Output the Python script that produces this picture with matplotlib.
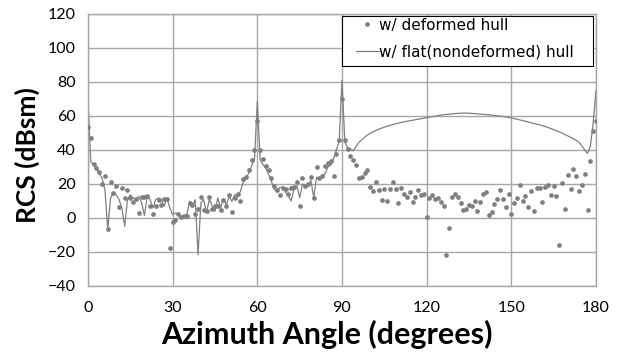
import numpy as np
import matplotlib
matplotlib.use("Agg")
import matplotlib.pyplot as plt
from matplotlib.patches import Rectangle

# azimuth angle, 1 degree steps
azimuth = np.arange(0, 181)

# RCS with deformed hull (dots), dBsm
rcs_deformed = [
    53.3, 46.9, 31.8, 29.2, 27.3, 20.0, 24.5, -6.5, 21.0, 14.7,
    19.0, 6.5, 17.8, 12.0, 16.3, 11.8, 9.4, 11.2, 3.1, 12.4,
    12.5, 13.0, 7.0, 2.5, 7.3, 10.4, 7.5, 11.0, 11.4, -17.6,
    -2.5, -1.4, 2.5, 0.6, 1.4, 1.0, 8.8, 7.5, 2.5, 5.5,
    12.2, 4.5, 4.0, 12.2, 5.0, 7.0, 7.3, 4.5, 10.4, 7.3,
    13.7, 3.5, 11.8, 14.1, 10.2, 23.1, 24.1, 28.4, 33.9, 39.8,
    57.3, 39.8, 34.9, 30.8, 28.4, 23.7, 18.6, 16.7, 13.7, 17.6,
    17.0, 14.1, 17.6, 18.2, 21.0, 6.9, 23.5, 19.0, 20.2, 24.1,
    11.8, 30.0, 23.5, 24.5, 30.8, 32.4, 33.7, 24.9, 37.8, 46.0,
    70.0, 46.0, 40.6, 36.3, 33.9, 31.2, 23.5, 23.9, 26.5, 28.0,
    18.2, 15.9, 21.0, 16.7, 10.8, 17.3, 9.8, 17.0, 21.0, 17.0,
    8.6, 17.8, 14.1, 12.2, 15.5, 9.2, 12.4, 16.3, 13.7, 13.9,
    0.8, 11.8, 13.5, 11.4, 11.8, 9.2, 6.9, -22.0, -5.9, 12.5,
    13.9, 12.2, 8.8, 4.9, 5.3, 7.8, 7.3, 9.8, 3.9, 9.2,
    14.1, 15.5, 2.0, 3.5, 8.2, 11.2, 16.7, 11.4, 6.5, 14.3,
    2.5, 8.8, 11.8, 19.6, 9.8, 12.7, 6.5, 16.1, 4.1, 17.6,
    17.8, 9.4, 18.2, 19.2, 13.7, 19.0, 13.1, -15.7, 20.6, 5.3,
    25.1, 17.0, 28.6, 24.5, 15.7, 19.4, 25.9, 4.5, 33.7, 51.0,
    57.3,
]

# RCS with flat (nondeformed) hull (line), dBsm
rcs_flat = [
    70.0, 33.0, 31.0, 29.0, 26.0, 23.5, 16.7, -6.5, 11.8, 14.7,
    13.7, 10.8, 5.9, -4.9, 10.8, 13.7, 11.8, 10.8, 12.7, 9.0,
    1.4, 12.7, 10.8, 5.9, 10.8, 11.8, 10.8, 6.9, 11.8, 5.9,
    2.0, 2.9, 2.5, 1.0, 1.0, 2.0, 9.8, 6.9, 10.8, -21.6,
    8.8, 10.8, 2.9, 11.2, 7.0, 4.0, 11.8, 5.9, 11.2, 7.8,
    12.7, 9.8, 13.7, 12.7, 15.7, 21.0, 23.5, 26.5, 30.8, 34.3,
    68.6, 34.3, 31.4, 29.4, 25.5, 21.6, 16.7, 16.0, 18.0, 18.0,
    15.0, 13.0, 10.0, 17.0, 19.0, 12.0, 20.0, 18.0, 19.0, 22.0,
    12.0, 24.0, 23.0, 25.0, 26.0, 30.0, 31.0, 35.0, 40.0, 45.0,
    81.0, 45.0, 41.0, 40.5, 39.6, 42.0, 44.5, 46.0, 47.5, 48.8,
    49.8, 50.7, 51.5, 52.2, 52.8, 53.4, 54.0, 54.5, 55.0, 55.4,
    55.8, 56.2, 56.6, 56.9, 57.2, 57.5, 57.8, 58.1, 58.4, 58.7,
    59.0, 59.3, 59.6, 59.9, 60.2, 60.5, 60.7, 60.9, 61.1, 61.3,
    61.4, 61.5, 61.6, 61.7, 61.7, 61.6, 61.5, 61.4, 61.3, 61.1,
    61.0, 60.8, 60.7, 60.5, 60.3, 60.1, 59.9, 59.7, 59.5, 59.2,
    58.9, 58.5, 58.1, 57.7, 57.3, 56.9, 56.5, 56.0, 55.6, 55.2,
    54.8, 54.3, 53.8, 53.2, 52.6, 52.0, 51.3, 50.6, 49.9, 49.1,
    48.3, 47.5, 46.6, 45.7, 44.5, 42.5, 40.0, 38.0, 42.0, 56.0,
    75.0,
]

x_ticks = [0, 30, 60, 90, 120, 150, 180]
y_ticks = [-40, -20, 0, 20, 40, 60, 80, 100, 120]

fig = plt.figure(figsize=(6.2, 3.54), dpi=100)
ax = fig.add_axes([0.1419, 0.1921, 0.8194, 0.7684])

ax.plot(azimuth, rcs_deformed, linestyle="none", marker="o", markersize=3.4,
        color="#7f7f7f", markeredgewidth=0, label="w/ deformed hull", zorder=3)
ax.plot(azimuth, rcs_flat, color="#7f7f7f", linewidth=0.9,
        label="w/ flat(nondeformed) hull", zorder=2)

ax.set_xlim(0, 180)
ax.set_ylim(-40, 120)
ax.set_xticks(x_ticks)
ax.set_yticks(y_ticks)
ax.grid(True, color="#a6a6a6", linewidth=1.0)
ax.set_axisbelow(True)
for s in ax.spines.values():
    s.set_color("#a6a6a6")
    s.set_linewidth(1.0)
ax.tick_params(length=0, labelsize=11.5)
ax.tick_params(axis="x", pad=11)
ax.tick_params(axis="y", pad=9)
for lab in ax.get_xticklabels() + ax.get_yticklabels():
    lab.set_family("Lato")

ax.set_xlabel("Azimuth Angle (degrees)", family="Lato", fontweight="bold",
              fontsize=22, labelpad=3)
ax.xaxis.set_label_coords(0.47, -0.125)
ax.set_ylabel("RCS (dBsm)", family="Lato", fontweight="bold",
              fontsize=19, labelpad=3)
ax.yaxis.set_label_coords(-0.095, 0.48)

# legend box drawn separately (wide side padding like the original)
box = Rectangle((0.5, 0.809), 0.494, 0.184, transform=ax.transAxes,
                facecolor="white", edgecolor="black", linewidth=0.8, zorder=5)
ax.add_patch(box)
leg = ax.legend(loc="upper left", bbox_to_anchor=(0.527, 0.987), fontsize=11,
                frameon=False, borderaxespad=0, borderpad=0,
                handlelength=1.5, handletextpad=0.0, labelspacing=0.78)
leg.set_zorder(6)

fig.savefig("out.png", dpi=100)
